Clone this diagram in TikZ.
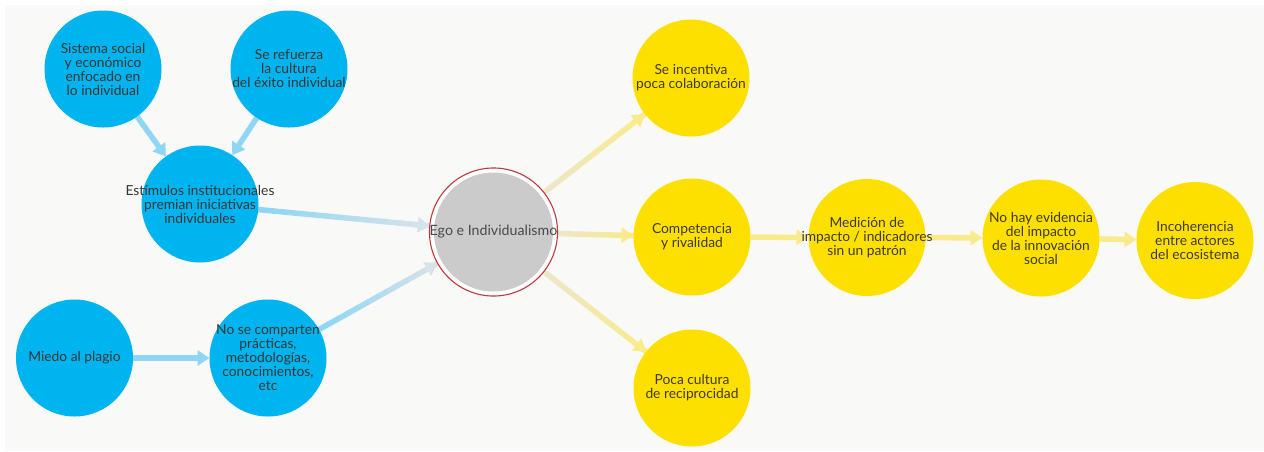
\documentclass[tikz,border=0pt]{standalone}
\usepackage{fontspec}
\setmainfont{Lato}
\usetikzlibrary{arrows.meta,calc}
\pgfdeclarelayer{bglayer}
\pgfdeclarelayer{connlayer}
\pgfsetlayers{bglayer,connlayer,main}
\definecolor{bgc}{HTML}{F9F9F7}
\definecolor{bluen}{HTML}{00B4EF}
\definecolor{yellown}{HTML}{FEE000}
\definecolor{greyn}{HTML}{CBCBCB}
\definecolor{ringred}{HTML}{BE3A3E}
\definecolor{txt}{HTML}{363636}
\definecolor{ytxt}{HTML}{3E3A22}
\definecolor{etxt}{HTML}{4A4A4A}
\definecolor{bluearr}{HTML}{8ED6F4}
\definecolor{bluefade}{HTML}{D6E3EA}
\definecolor{yelarr}{HTML}{F9EB8C}
\definecolor{yelfade}{HTML}{EDE7C8}
\tikzset{
  bubble/.style={circle, minimum size=117pt, inner sep=0pt, outer sep=0pt},
  bubtext/.style={align=center, inner sep=0pt, font=\fontsize{13.8}{14}\selectfont},
  bluebub/.style={bubble, fill=bluen, label={[bubtext, text=txt]center:{#1}}},
  yelbub/.style={bubble, fill=yellown, label={[bubtext, text=ytxt]center:{#1}}},
  conn/.style={line width=5.5pt, -{Triangle[length=12pt,width=15pt]}},
  bconn/.style={conn, draw=bluearr},
  yconn/.style={conn, draw=yelarr},
}
% gradient connector: #1 start colour, #2 end colour, #3 source node, #4 target node
\newcommand{\gradconn}[4]{%
  \path (#3) -- coordinate[pos=0] (gs) coordinate[pos=1] (ge) (#4);
  \foreach \k in {0,...,11}{%
    \pgfmathsetmacro{\pc}{100-\k*100/11}
    \colorlet{segc}{#1!\pc!#2}
    \draw[line width=5.5pt, draw=segc] ($(gs)!{\k/12}!(ge)$) -- ($(gs)!{(\k+1)/12+0.005}!(ge)$);
  }
  \draw[line width=5.5pt, draw=#2, -{Triangle[length=12pt,width=15pt]}] ($(gs)!0.9!(ge)$) -- (ge);
}
\begin{document}
\begin{tikzpicture}[x=1pt,y=-1pt]
\useasboundingbox (0,0) rectangle (1264,451);
\begin{pgfonlayer}{bglayer}
\fill[white] (0,0) rectangle (1264,451);
\fill[bgc] (5,5) rectangle (1264,451);
\end{pgfonlayer}

\node[bluebub={Sistema social\\y económico\\enfocado en\\lo individual}] (sist) at (103,69) {};
\node[bluebub={Se refuerza\\la cultura\\del éxito individual}] (refu) at (289,69) {};
\node[bluebub={Estímulos institucionales\\premian iniciativas\\individuales}] (estim) at (200,204) {};
\node[bluebub={Miedo al plagio}] (miedo) at (74.5,358) {};
\node[bluebub={No se comparten\\prácticas,\\metodologías,\\conocimientos,\\etc}] (nocomp) at (268,358) {};

\node[circle, minimum size=127pt, inner sep=0pt, outer sep=0pt, draw=ringred, line width=1.1pt, fill=white,
  path picture={\fill[greyn] (path picture bounding box.center) circle (59.5pt);},
  text=etxt, font=\fontsize{14.2}{14}\selectfont] (ego) at (493.5,232) {Ego e Individualismo};

\node[yelbub={Se incentiva\\poca colaboración}] (incent) at (691,78) {};
\node[yelbub={Competencia\\y rivalidad}] (compet) at (692,237) {};
\node[yelbub={Poca cultura\\de reciprocidad}] (poca) at (692,388) {};
\node[yelbub={Medición de\\impacto / indicadores\\sin un patrón}] (medic) at (867,237.5) {};
\node[yelbub={No hay evidencia\\del impacto\\de la innovación\\social}] (nohay) at (1041,238) {};
\node[yelbub={Incoherencia\\entre actores\\del ecosistema}] (incoh) at (1195,240.5) {};

\begin{pgfonlayer}{connlayer}
\draw[bconn] (sist) -- (estim);
\draw[bconn] (refu) -- (estim);
\draw[bconn] (miedo) -- (nocomp);
\gradconn{bluearr}{bluefade}{estim}{ego}
\gradconn{bluearr}{bluefade}{nocomp}{ego}
\gradconn{yelfade}{yelarr}{ego}{incent}
\gradconn{yelfade}{yelarr}{ego}{compet}
\gradconn{yelfade}{yelarr}{ego}{poca}
\draw[yconn] (compet) -- (medic);
\draw[yconn] (medic) -- (nohay);
\draw[yconn] (nohay) -- (incoh);
\end{pgfonlayer}
\end{tikzpicture}
\end{document}
